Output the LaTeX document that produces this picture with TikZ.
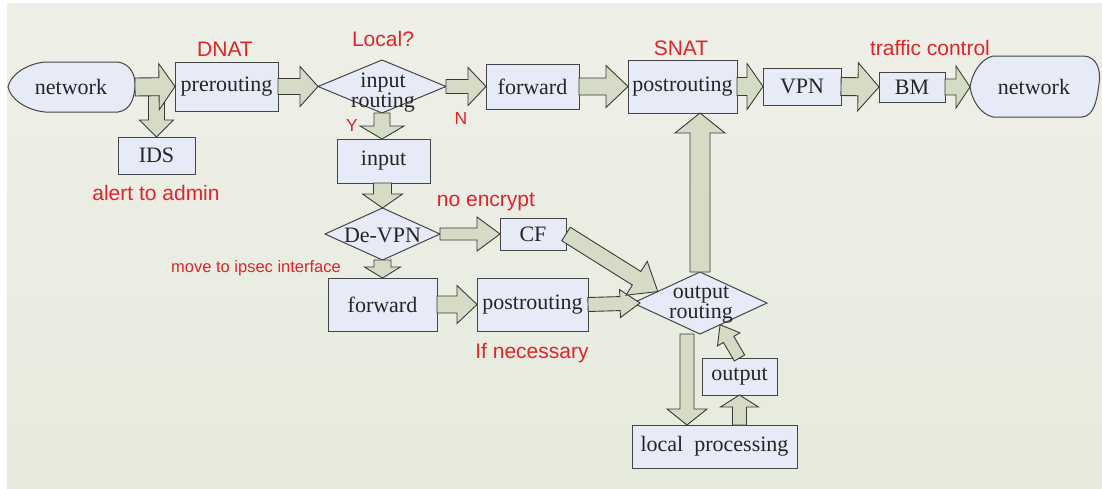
\documentclass[tikz,border=0pt]{standalone}
\usepackage{fontspec}
\setmainfont{Liberation Serif}
\newfontfamily\redfont{Liberation Sans}
\usetikzlibrary{calc,shapes.geometric}
\definecolor{bgtop}{HTML}{EFEFE8}
\definecolor{bgbot}{HTML}{E6EBDD}
\definecolor{boxfill}{HTML}{E7EBF7}
\definecolor{boxline}{HTML}{454545}
\definecolor{arrfill}{HTML}{D6DBC6}
\definecolor{arrline}{HTML}{3A3A3A}
\definecolor{lblred}{HTML}{E0242A}
\definecolor{txtdark}{HTML}{252525}
\tikzset{
  box/.style={draw=boxline, fill=boxfill, line width=1pt, inner sep=0pt, outer sep=0pt,
    text=txtdark, font=\fontsize{22}{24}\selectfont},
  dia/.style={diamond, draw=boxline, fill=boxfill, line width=1pt, inner sep=0pt, outer sep=0pt},
  dtext/.style={inner sep=0pt, align=center, text=txtdark, font=\fontsize{22}{20}\selectfont},
  netshape/.style={draw=boxline, fill=boxfill, line width=1pt},
  nettext/.style={inner sep=0pt, outer sep=0pt, text=txtdark, font=\fontsize{22}{24}\selectfont},
  lbl/.style={inner sep=0pt, text=lblred, font=\redfont\fontsize{21}{24}\selectfont},
  lblyn/.style={inner sep=0pt, text=lblred, font=\redfont\fontsize{17.5}{20}\selectfont},
  lblsmall/.style={inner sep=0pt, text=lblred, font=\redfont\fontsize{16.5}{20}\selectfont},
  fat/.style={draw=arrline, fill=arrfill, line width=0.9pt, line join=miter}
}
% fat hollow arrow: start, end, shaft half-width, head half-width, head length
\newcommand{\fatarr}[5]{%
  \coordinate (faS) at (#1);
  \coordinate (faE) at (#2);
  \coordinate (faC) at ($(faE)!#5!(faS)$);
  \draw[fat] ($(faS)!#3!90:(faE)$) -- ($(faC)!#3!90:(faE)$) -- ($(faC)!#4!90:(faE)$)
    -- (faE) -- ($(faC)!#4!-90:(faE)$) -- ($(faC)!#3!-90:(faE)$) -- ($(faS)!#3!-90:(faE)$) -- cycle;}
\begin{document}
\begin{tikzpicture}[x=1pt,y=-1pt]
\useasboundingbox (0,0) rectangle (1102,488);
\fill[white] (0,0) rectangle (1102,488);
\shade[top color=bgtop, bottom color=bgbot] (7,3) rectangle (1102,488);

% network shapes
\draw[netshape] (45,62) -- (118,62) .. controls (132,64) and (136,78) .. (135,87)
  .. controls (134,98) and (131,110) .. (118,112) -- (45,112)
  .. controls (25,110) and (10,98) .. (8,87) .. controls (10,76) and (25,64) .. (45,62) -- cycle;
\node[nettext, minimum width=128pt, minimum height=50pt] (netL) at (71,87) {network};

\draw[netshape] (993,56) -- (1084,56) .. controls (1098,57) and (1101,72) .. (1099,84)
  .. controls (1097,100) and (1094,116) .. (1082,117) -- (993,117)
  .. controls (980,114) and (972,100) .. (970,87) .. controls (972,74) and (980,59) .. (993,56) -- cycle;
\node[nettext, minimum width=128pt, minimum height=50pt] (netR) at (1034,87) {network};

% boxes
\node[box, minimum width=103pt, minimum height=49pt] (pre) at (226.5,86.5) {prerouting};
\node[box, minimum width=77pt, minimum height=37pt] (IDS) at (156.5,155.5) {IDS};
\node[box, minimum width=93pt, minimum height=44pt] (input) at (383.5,161) {input};
\node[box, minimum width=93pt, minimum height=45pt] (fwd) at (532.5,86.5) {forward};
\node[box, minimum width=109pt, minimum height=53pt] (post) at (682.5,86.5) {postrouting};
\node[box, minimum width=78pt, minimum height=37pt] (VPN) at (802,86.5) {VPN};
\node[box, minimum width=66pt, minimum height=30pt] (BM) at (912,87) {BM};
\node[box, minimum width=66pt, minimum height=32pt] (CF) at (533,234) {CF};
\node[box, minimum width=109pt, minimum height=53pt] (fwd2) at (382.5,304.5) {forward};
\node[box, minimum width=111pt, minimum height=53pt] (post2) at (532.5,304.5) {postrouting};
\node[box, minimum width=75pt, minimum height=37pt] (output) at (739.5,376.5) {output};
\node[box, minimum width=165pt, minimum height=43pt] (local) at (714.5,446.5) {local\hspace{11pt}processing};

% diamonds
\node[dia, minimum width=128pt, minimum height=53pt] (inR) at (382,86.5) {};
\node[dtext] (inRt) at (383,93) {input\\routing};
\node[dia, minimum width=115pt, minimum height=52pt] (deVPN) at (382.5,234) {};
\node[dtext] (deVPNt) at (382.5,235) {De-VPN};
\node[dia, minimum width=134pt, minimum height=62pt] (outR) at (700,303) {};
\node[dtext] (outRt) at (701,305) {output\\routing};

% fat arrows
\fatarr{netL.east -| IDS.north}{IDS.north}{8pt}{17pt}{17pt}
\fatarr{netL.east}{pre.west}{9pt}{23pt}{16pt}
\fatarr{pre.east}{inR.west}{8pt}{20pt}{18pt}
\fatarr{inR.east}{fwd.west}{7pt}{19pt}{18pt}
\fatarr{fwd.east}{post.west}{8.5pt}{21pt}{22pt}
\fatarr{post.east}{VPN.west}{9pt}{23pt}{16pt}
\fatarr{VPN.east}{BM.west}{9pt}{24pt}{21pt}
\fatarr{BM.east}{netR.west}{8pt}{21pt}{14pt}
\fatarr{inR.south}{inR.south |- input.north}{8pt}{22pt}{13pt}
\fatarr{deVPN.north |- input.south}{deVPN.north}{9pt}{20pt}{14pt}
\fatarr{deVPN.east}{CF.west}{6pt}{17pt}{23pt}
\fatarr{deVPN.south}{fwd2.north}{8.5pt}{18pt}{11pt}
\fatarr{fwd2.east}{post2.west}{8.5pt}{19pt}{20pt}
\fatarr{post2.east}{$(outR.west)+(7,0)$}{7pt}{14pt}{20pt}
\fatarr{CF.east}{$(outR.west)!0.37!(outR.north)$}{8pt}{20pt}{25pt}
\fatarr{outR.north}{outR.north |- post.south}{10pt}{25pt}{20pt}
\coordinate (o17) at ($(outR.south)+(-13,0)$);
\fatarr{o17}{o17 |- local.north}{7pt}{20pt}{16pt}
\fatarr{output.south |- local.north}{output.south}{7pt}{19pt}{12pt}
\fatarr{output.north}{$(outR.south)!0.3!(outR.east)$}{6pt}{13pt}{17pt}

% red labels
\node[lbl] (lDNAT) at (225,49) {DNAT};
\node[lbl] (lLocal) at (383,39) {Local?};
\node[lbl] (lSNAT) at (681,48) {SNAT};
\node[lbl] (lTC) at (930,48) {traffic control};
\node[lblyn] (lY) at (352,125) {Y};
\node[lblyn] (lN) at (461,118) {N};
\node[lbl] (lAlert) at (156,193) {alert to admin};
\node[lbl] (lNoEnc) at (486,202) {no encrypt};
\node[lblsmall] (lMove) at (256,268) {move to ipsec interface};
\node[lbl] (lNec) at (532,353) {If necessary};
\end{tikzpicture}
\end{document}
